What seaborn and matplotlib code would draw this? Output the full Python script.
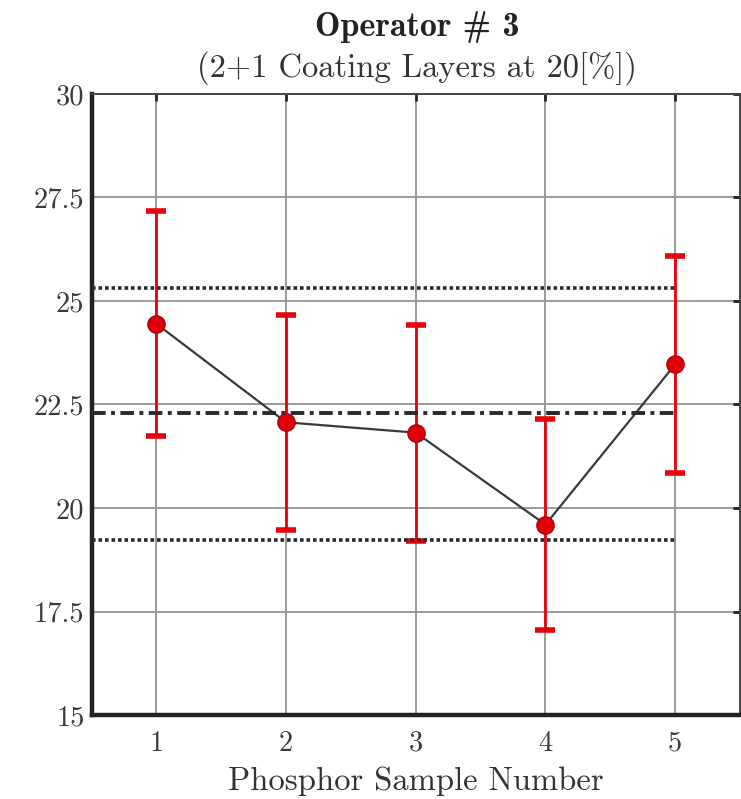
import matplotlib
matplotlib.use("Agg")
import matplotlib.pyplot as plt
import seaborn as sns
import pandas as pd

# Measured mean values and their uncertainty for each phosphor sample
samples = [1, 2, 3, 4, 5]
means = [24.45, 22.07, 21.82, 19.60, 23.47]
errors = [2.72, 2.60, 2.61, 2.54, 2.62]

# Control limits: centre line and upper / lower bounds
center_line = 22.29
upper_limit = 25.31
lower_limit = 19.23

y_ticks = [15, 17.5, 20, 22.5, 25, 27.5, 30]
y_tick_labels = ["15", "17.5", "20", "22.5", "25", "27.5", "30"]
x_tick_labels = ["1", "2", "3", "4", "5"]

title = "Operator # 3"
subtitle = "(2+1 Coating Layers at 20[%])"
x_label = "Phosphor Sample Number"

sns.set_theme(style="white")
plt.rcParams["font.family"] = ["cmr10", "DejaVu Serif"]
plt.rcParams["axes.unicode_minus"] = False

df = pd.DataFrame({"sample": samples, "value": means, "err": errors})

fig = plt.figure(figsize=(7.41, 7.99), dpi=100)
ax = fig.add_axes([0.1235, 0.1051, 0.8752, 0.7773])

ax.grid(True, color="#9a9a96", linewidth=1.4, zorder=0)
ax.set_axisbelow(True)

# Error bars
ax.errorbar(df["sample"], df["value"], yerr=df["err"], fmt="none",
            ecolor="#e8000b", elinewidth=2.0, capsize=7, capthick=4,
            zorder=2)

# Connecting line
sns.lineplot(data=df, x="sample", y="value", color="#3a3a3a",
             linewidth=1.6, ax=ax, zorder=2.5, errorbar=None)

# Control limit lines
x_span = [0.5, samples[-1]]
ax.plot(x_span, [upper_limit] * 2, color="#2a2a2a", linewidth=2.6,
        linestyle=(0, (1.0, 0.8)), zorder=3)
ax.plot(x_span, [lower_limit] * 2, color="#2a2a2a", linewidth=2.6,
        linestyle=(0, (1.0, 0.8)), zorder=3)
ax.plot(x_span, [center_line] * 2, color="#2a2a2a", linewidth=2.8,
        linestyle=(0, (3.5, 1.4, 1.0, 1.4)), zorder=3)

# Sample markers
sns.scatterplot(data=df, x="sample", y="value", color="#e0000a",
                edgecolor="#b00008", linewidth=1.2, s=150, ax=ax,
                zorder=4, legend=False)

ax.set_xlim(0.5, 5.5)
ax.set_ylim(15, 30)
ax.set_xticks(samples)
ax.set_xticklabels(x_tick_labels)
ax.set_yticks(y_ticks)
ax.set_yticklabels(y_tick_labels)
ax.tick_params(axis="both", which="both", direction="in", length=5,
               width=2, color="#222222", labelsize=20.5, labelcolor="#3a3a3a",
               top=True, right=True)
ax.tick_params(axis="x", pad=11)
ax.tick_params(axis="y", pad=5)

for side in ["left", "bottom"]:
    ax.spines[side].set_linewidth(3.2)
    ax.spines[side].set_color("#222222")
for side in ["top", "right"]:
    ax.spines[side].set_linewidth(1.4)
    ax.spines[side].set_color("#444444")
    ax.spines[side].set_visible(True)

ax.set_xlabel(x_label, fontsize=23.5, color="#333333", labelpad=7)
ax.set_ylabel("")

fig.text(0.563, 0.966, title, ha="center", va="center", fontsize=24.5,
         family=["cmb10", "DejaVu Serif"], color="#222222")
fig.text(0.563, 0.915, subtitle, ha="center", va="center", fontsize=23.5,
         color="#333333")

fig.savefig("out.png", dpi=100)
